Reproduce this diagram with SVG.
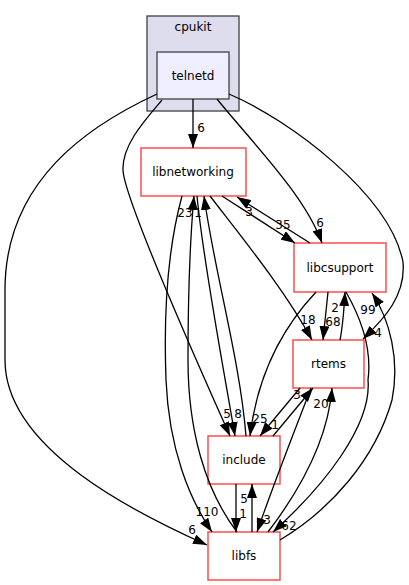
<svg xmlns="http://www.w3.org/2000/svg" width="409" height="585" viewBox="0 0 409 585">
<style>
text{font-family:"DejaVu Sans","Liberation Sans",sans-serif;font-size:12px;fill:#000;text-anchor:middle}
.dir rect{fill:#fff;stroke:#ff4040;stroke-width:1.4}
.edge{fill:none;stroke:#000;stroke-width:1.3;marker-end:url(#ah)}
</style>
<defs>
<marker id="ah" viewBox="0 0 14 10" refX="14" refY="5" markerWidth="14" markerHeight="10" markerUnits="userSpaceOnUse" orient="auto">
<path d="M0,0 L14,5 L0,10 z" fill="#000"/>
</marker>
</defs>
<rect width="409" height="585" fill="#fff"/>
<g id="cluster_cpukit">
<rect x="147" y="16" width="92" height="95" fill="#ddddee" stroke="#404040" stroke-width="1.3"/>
<text x="193" y="31">cpukit</text>
</g>
<g id="node_telnetd">
<rect x="157" y="52" width="72" height="47" fill="#eeeeff" stroke="#404040" stroke-width="1.3"/>
<text x="193" y="79.5">telnetd</text>
</g>
<g id="node_libnetworking" class="dir">
<rect x="141" y="148" width="105" height="48"/>
<text x="193" y="176">libnetworking</text>
</g>
<g id="node_libcsupport" class="dir">
<rect x="294" y="243" width="92" height="49"/>
<text x="340" y="271.5">libcsupport</text>
</g>
<g id="node_rtems" class="dir">
<rect x="293" y="340" width="71" height="48"/>
<text x="328.5" y="368">rtems</text>
</g>
<g id="node_include" class="dir">
<rect x="208" y="436" width="72" height="48"/>
<text x="244" y="464">include</text>
</g>
<g id="node_libfs" class="dir">
<rect x="208" y="532" width="72" height="48"/>
<text x="244" y="560">libfs</text>
</g>
<g id="connectors">
<path class="edge" d="M193,99 L193,148"/>
<text x="201" y="132">6</text>
<path class="edge" d="M217,99 C250,140 305,195 322,243"/>
<text x="320" y="227">6</text>
<path class="edge" d="M229,94 C290,120 390,195 403,262 C406,295 385,318 363,339"/>
<text x="378" y="337">4</text>
<path class="edge" d="M162,100 C145,120 122,145 123,170 C124,200 205,380 230,436"/>
<text x="227" y="418">5</text>
<path class="edge" d="M157,94 C90,125 5,180 5,290 L5,360 C5,450 140,515 207,545"/>
<text x="192" y="534">6</text>
<path class="edge" d="M222,196 L295,243"/>
<text x="283" y="229">35</text>
<path class="edge" d="M310,243 L237,197"/>
<text x="249" y="216">3</text>
<path class="edge" d="M210,196 C240,235 285,290 312,340"/>
<text x="308" y="324">18</text>
<path class="edge" d="M197,196 C203,260 222,360 235,436"/>
<text x="238" y="418">8</text>
<path class="edge" d="M246,436 C240,360 214,270 204,196"/>
<text x="198" y="217">1</text>
<path class="edge" d="M182,196 C170,240 163,300 166,380 C169,450 190,500 212,532"/>
<text x="207" y="516">110</text>
<path class="edge" d="M237,532 C205,490 188,430 188,360 C188,290 190,240 194,196"/>
<text x="185" y="217">23</text>
<path class="edge" d="M328,292 L323,340"/>
<text x="333" y="326">68</text>
<path class="edge" d="M340,340 C343,325 344,310 345,292"/>
<text x="335" y="312">2</text>
<path class="edge" d="M316,292 C285,325 258,370 250,436"/>
<text x="260" y="423">25</text>
<path class="edge" d="M300,388 L260,436"/>
<text x="275" y="429">1</text>
<path class="edge" d="M273,436 L313,388"/>
<text x="297" y="399">3</text>
<path class="edge" d="M268,532 C300,490 328,440 332,388"/>
<text x="321" y="408">20</text>
<path class="edge" d="M311,388 C295,430 275,480 257,532"/>
<text x="267" y="524">3</text>
<path class="edge" d="M346,292 C362,320 372,350 368,380 C372,425 325,485 273,532"/>
<text x="289" y="530">62</text>
<path class="edge" d="M280,540 C330,510 375,460 392,400 C400,360 390,320 372,293"/>
<text x="368" y="314">99</text>
<path class="edge" d="M236,484 L236,532"/>
<text x="243" y="518">1</text>
<path class="edge" d="M252,532 L252,484"/>
<text x="244" y="503">5</text>
</g>
</svg>
